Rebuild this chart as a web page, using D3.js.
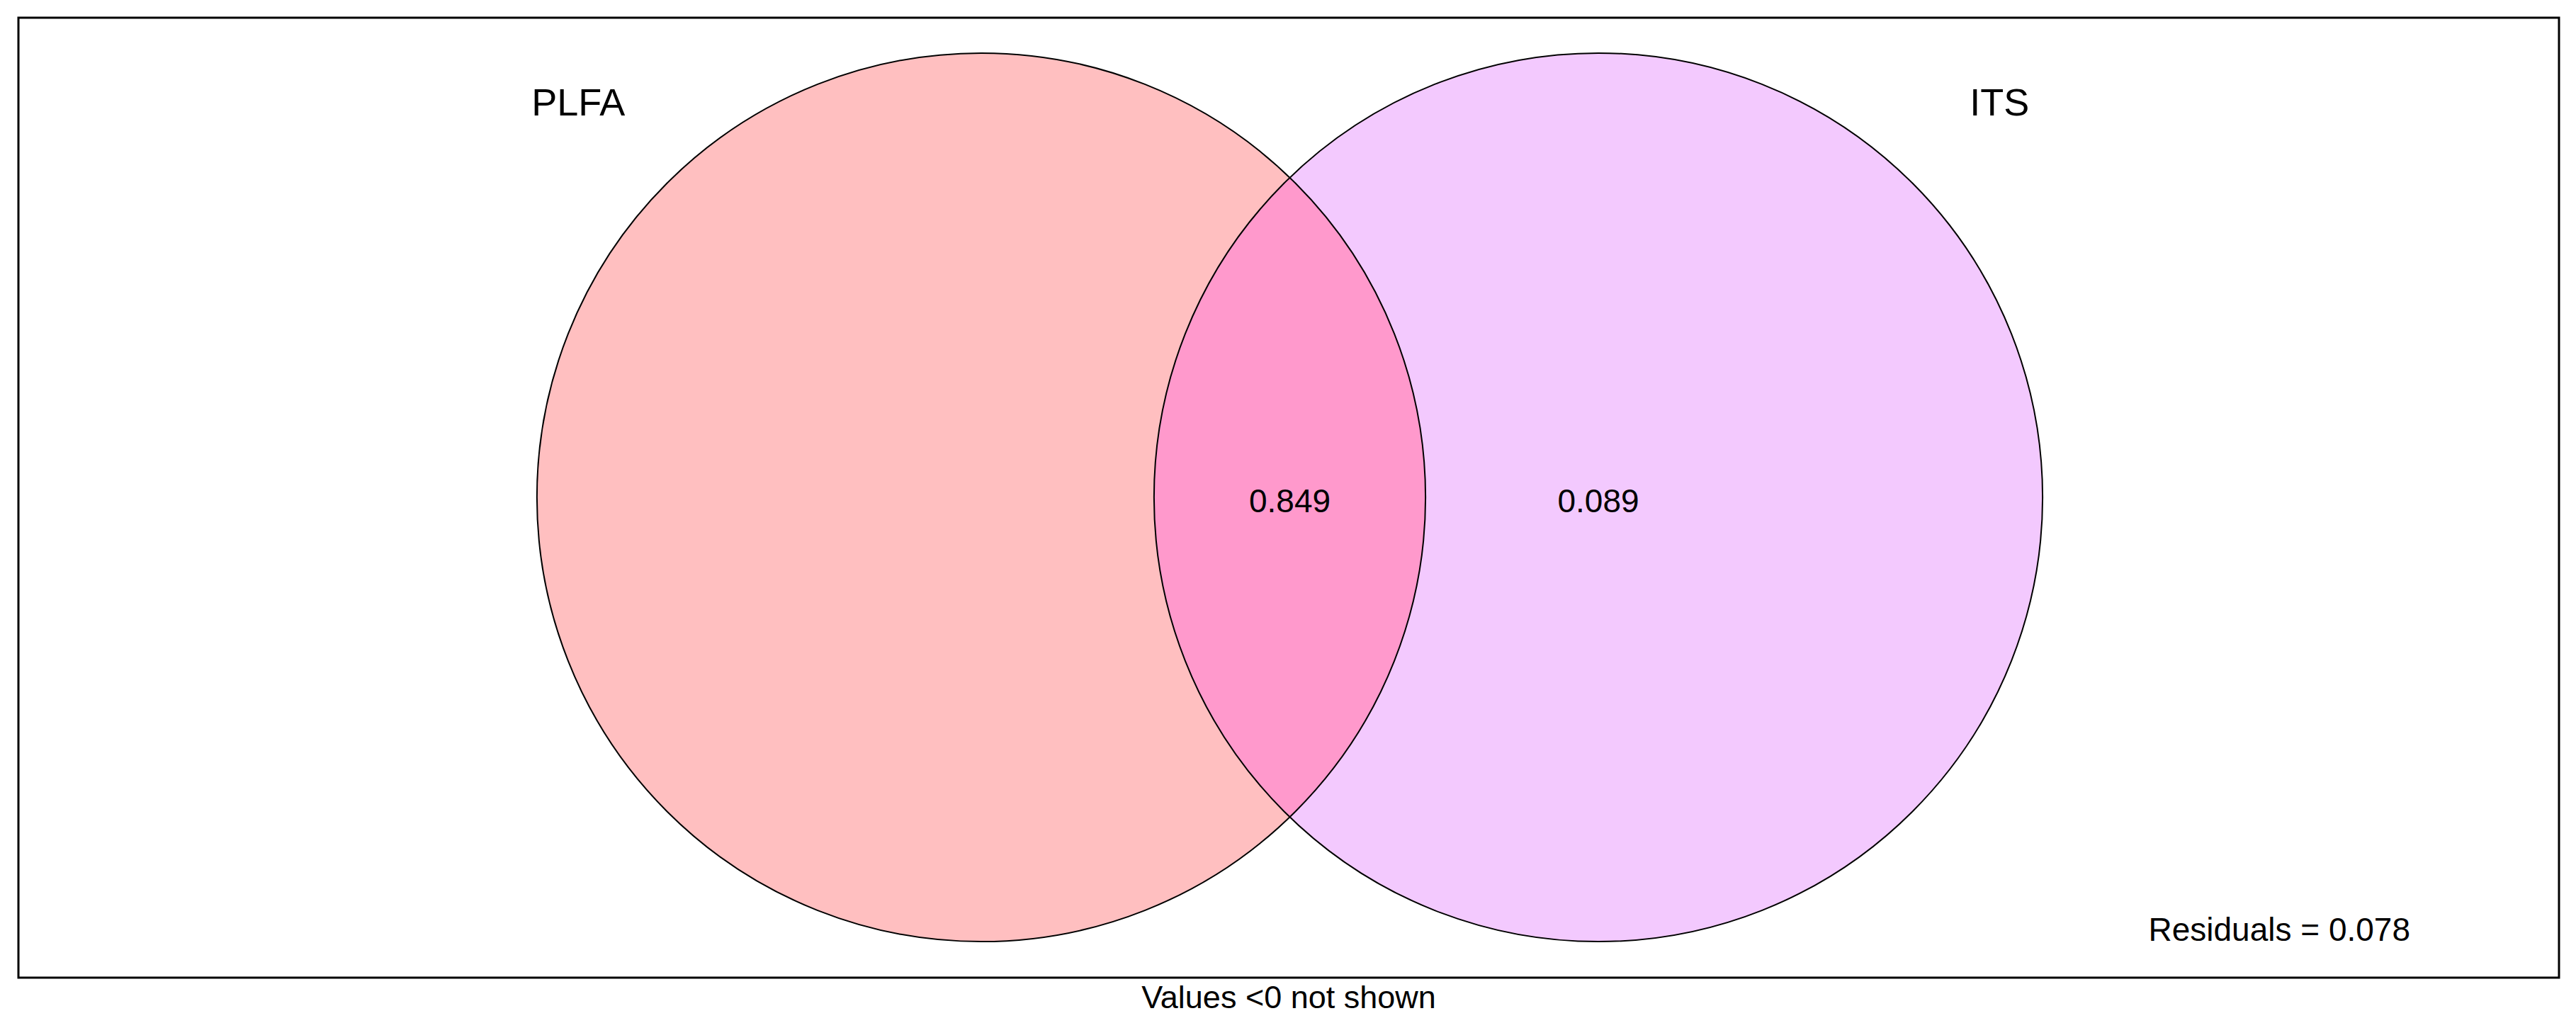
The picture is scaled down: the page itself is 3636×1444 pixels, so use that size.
<!DOCTYPE html>
<html>
<head>
<meta charset="utf-8">
<script src="https://cdn.jsdelivr.net/npm/d3@7"></script>
<style>
  html, body { margin: 0; padding: 0; background: #fff; }
  svg { display: block; }
</style>
</head>
<body>
<svg id="chart"></svg>
<script>
// variance partitioning result
var setNames = ["PLFA", "ITS"];
var fractionNames = ["[a]", "[b]", "[c]"];
var fractionValues = [-0.016, 0.849, 0.089];
var residualValue = 0.078;
var footnote = "Values <0 not shown";

var params = {
    width: 3636,
    height: 1444,
    box: { x: 26, y: 25, w: 3586, h: 1355 },
    // circle centres sit at 0 and 1 on the unit axis
    origin: 1385,
    unitPx: 871,
    centreY: 702,
    radius: 0.72,
    setLabelPos: [[-0.653, 0.619], [1.65, 0.619]],
    fractionPos: [[-0.5, -0.024], [0.5, -0.024], [1, -0.024]],
    fills: ["#ffbfc0", "#f3c9fe"],
    overlapFill: "#ff99cc",
    font: "'Liberation Sans', Arial, sans-serif"
};

var svg = d3.select("#chart")
    .attr("width", params.width)
    .attr("height", params.height);

var x = d3.scaleLinear()
    .domain([0, 1])
    .range([params.origin, params.origin + params.unitPx]);
var y = d3.scaleLinear()
    .domain([0, 1])
    .range([params.centreY, params.centreY - params.unitPx]);
var len = function(v) { return x(v) - x(0); };

var circles = setNames.map(function(name, i) {
    return { name: name, cx: i, cy: 0, r: params.radius, fill: params.fills[i] };
});

svg.append("rect")
    .attr("x", params.box.x)
    .attr("y", params.box.y)
    .attr("width", params.box.w)
    .attr("height", params.box.h)
    .attr("fill", "none")
    .attr("stroke", "#000")
    .attr("stroke-width", 3);

var defs = svg.append("defs");
defs.append("clipPath")
    .attr("id", "clip-left")
    .append("circle")
    .attr("cx", x(circles[0].cx))
    .attr("cy", y(circles[0].cy))
    .attr("r", len(circles[0].r));

var fillGroup = svg.append("g").attr("class", "fills");
fillGroup.selectAll("circle")
    .data(circles)
    .enter()
    .append("circle")
    .attr("cx", function(d) { return x(d.cx); })
    .attr("cy", function(d) { return y(d.cy); })
    .attr("r", function(d) { return len(d.r); })
    .attr("fill", function(d) { return d.fill; });

fillGroup.append("circle")
    .attr("clip-path", "url(#clip-left)")
    .attr("cx", x(circles[1].cx))
    .attr("cy", y(circles[1].cy))
    .attr("r", len(circles[1].r))
    .attr("fill", params.overlapFill);

svg.append("g").attr("class", "outlines")
    .selectAll("circle")
    .data(circles)
    .enter()
    .append("circle")
    .attr("cx", function(d) { return x(d.cx); })
    .attr("cy", function(d) { return y(d.cy); })
    .attr("r", function(d) { return len(d.r); })
    .attr("fill", "none")
    .attr("stroke", "#000")
    .attr("stroke-width", 2);

svg.append("g").attr("class", "set-labels")
    .selectAll("text")
    .data(setNames)
    .enter()
    .append("text")
    .attr("x", function(d, i) { return x(params.setLabelPos[i][0]); })
    .attr("y", function(d, i) { return y(params.setLabelPos[i][1]); })
    .attr("text-anchor", "middle")
    .attr("font-family", params.font)
    .attr("font-size", 54)
    .attr("fill", "#000")
    .text(function(d) { return d; });

var shown = fractionValues.map(function(v, i) {
    return { name: fractionNames[i], value: v, pos: params.fractionPos[i] };
}).filter(function(d) { return d.value >= 0; });

svg.append("g").attr("class", "fractions")
    .selectAll("text")
    .data(shown)
    .enter()
    .append("text")
    .attr("x", function(d) { return x(d.pos[0]); })
    .attr("y", function(d) { return y(d.pos[1]); })
    .attr("text-anchor", "middle")
    .attr("font-family", params.font)
    .attr("font-size", 46)
    .attr("fill", "#000")
    .text(function(d) { return d3.format(".3f")(d.value); });

svg.append("text")
    .attr("x", 3402)
    .attr("y", 1328)
    .attr("text-anchor", "end")
    .attr("font-family", params.font)
    .attr("font-size", 46)
    .text("Residuals = " + d3.format(".3f")(residualValue));

svg.append("text")
    .attr("x", 1819)
    .attr("y", 1423)
    .attr("text-anchor", "middle")
    .attr("font-family", params.font)
    .attr("font-size", 45)
    .text(footnote);
</script>
</body>
</html>
